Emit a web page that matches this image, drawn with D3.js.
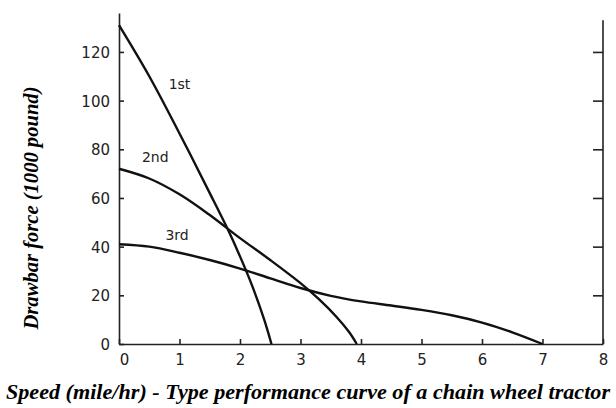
<!DOCTYPE html>
<html>
<head>
<meta charset="utf-8">
<script src="https://cdn.jsdelivr.net/npm/d3@7"></script>
<style>
  body { margin: 0; background: #fff; }
  svg { display: block; }
  .tick text { font-family: "DejaVu Sans", sans-serif; font-size: 15px; fill: #222; }
</style>
</head>
<body>
<div id="chart"></div>
<script>
// speed (mile/hr) -> drawbar force (1000 pound)
const gear1Speed = [0, 0.5, 1.0, 1.5, 1.8, 2.0, 2.2, 2.4, 2.52];
const gear1Force = [131, 110, 86.5, 62, 47, 36, 24, 10, 0];
const gear2Speed = [0, 0.5, 1.0, 1.5, 2.0, 2.5, 3.0, 3.3, 3.6, 3.8, 3.93];
const gear2Force = [72, 68, 61.5, 53, 43.5, 34.5, 25, 18.5, 11, 5, 0];
const gear3Speed = [0, 0.5, 1.0, 1.5, 2.0, 2.5, 3.0, 3.5, 4.0, 4.5, 5.0, 5.5, 6.0, 6.5, 7.0];
const gear3Force = [41, 40, 37.5, 34.5, 31, 27, 23, 19.8, 17.5, 15.8, 14, 11.8, 8.8, 4.8, 0];
const gearLabels = ['1st', '2nd', '3rd'];
const labelPos = [[1.0, 107], [0.6, 77], [0.96, 45]];
const xTicks = [0, 1, 2, 3, 4, 5, 6, 7, 8];
const yTicks = [0, 20, 40, 60, 80, 100, 120];

const width = 616, height = 408;
const svg = d3.select('#chart').append('svg')
  .attr('width', width).attr('height', height)
  .attr('viewBox', [0, 0, width, height]);

const x = d3.scaleLinear().domain([0, 8]).range([119, 603]);
const y = d3.scaleLinear().domain([0, 136]).range([344, 13]);

// left axis, ticks pointing inward
const yAxisG = svg.append('g').attr('transform', `translate(${x(0)},0)`)
  .call(d3.axisRight(y).tickValues(yTicks).tickSize(5).tickSizeOuter(0));
yAxisG.selectAll('.tick text').attr('x', -9).attr('text-anchor', 'end').attr('dy', '0.36em');

// right axis, no labels
svg.append('g').attr('transform', `translate(${x(8)},0)`)
  .call(d3.axisLeft(y).tickValues(yTicks.slice(1)).tickSize(10).tickSizeOuter(0).tickFormat(''))
  .select('.domain').attr('d', `M0,${y(133)}V${y(0)}`);

// bottom axis, ticks pointing up
const xAxisG = svg.append('g').attr('transform', `translate(0,${y(0)})`)
  .call(d3.axisTop(x).tickValues(xTicks).tickSize(5).tickSizeOuter(0));
xAxisG.selectAll('.tick text').attr('y', 10).attr('dy', '0.71em');
xAxisG.select('.tick text').attr('dx', 5);

svg.selectAll('.domain, .tick line').attr('stroke', '#222').attr('stroke-width', 1.6);

const line = d3.line().x(d => x(d[0])).y(d => y(d[1])).curve(d3.curveCatmullRom);
const series = [
  d3.zip(gear1Speed, gear1Force),
  d3.zip(gear2Speed, gear2Force),
  d3.zip(gear3Speed, gear3Force)
];
svg.append('g').selectAll('path').data(series).join('path')
  .attr('d', line)
  .attr('fill', 'none')
  .attr('stroke', '#111')
  .attr('stroke-width', 2.4);

svg.append('g').selectAll('text').data(gearLabels).join('text')
  .attr('x', (d, i) => x(labelPos[i][0]))
  .attr('y', (d, i) => y(labelPos[i][1]))
  .attr('text-anchor', 'middle')
  .attr('dy', '0.36em')
  .attr('font-family', '"DejaVu Sans", sans-serif')
  .attr('font-size', 14)
  .attr('fill', '#222')
  .text(d => d);

svg.append('text')
  .attr('transform', 'translate(31,208) rotate(-90)')
  .attr('text-anchor', 'middle')
  .attr('dy', '0.35em')
  .attr('font-family', '"Liberation Serif", serif')
  .attr('font-style', 'italic')
  .attr('font-weight', 'bold')
  .attr('font-size', 20)
  .attr('textLength', 243)
  .attr('lengthAdjust', 'spacingAndGlyphs')
  .text('Drawbar force (1000 pound)');

svg.append('text')
  .attr('x', 308)
  .attr('y', 392)
  .attr('text-anchor', 'middle')
  .attr('dy', '0.35em')
  .attr('font-family', '"Liberation Serif", serif')
  .attr('font-style', 'italic')
  .attr('font-weight', 'bold')
  .attr('font-size', 20)
  .attr('textLength', 604)
  .attr('lengthAdjust', 'spacingAndGlyphs')
  .text('Speed (mile/hr) - Type performance curve of a chain wheel tractor');
</script>
</body>
</html>
